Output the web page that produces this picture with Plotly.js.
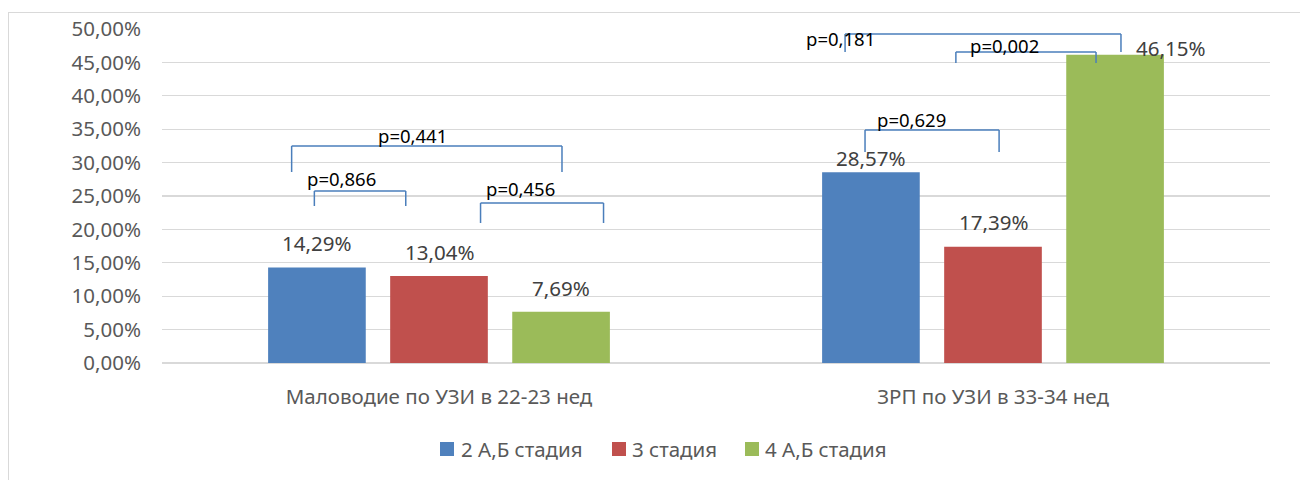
<!DOCTYPE html>
<html>
<head>
<meta charset="utf-8">
<script src="https://cdn.plot.ly/plotly-3.0.1.min.js"></script>
<style>
  html, body { margin: 0; padding: 0; background: #fff; }
  #wrap { position: relative; width: 1300px; height: 480px; overflow: hidden; }
  #frame { position: absolute; left: 8px; top: 12px; width: 1400px; height: 600px; border: 1px solid #d9d9d9; box-sizing: border-box; }
  #chart { position: absolute; left: 0; top: 0; width: 1300px; height: 480px; }
</style>
</head>
<body>
<div id="wrap">
  <div id="frame"></div>
  <div id="chart"></div>
</div>
<script>
// ---- data ----
var categories = ['Маловодие по УЗИ в 22-23 нед', 'ЗРП по УЗИ в 33-34 нед'];
var seriesNames = ['2 А,Б стадия', '3 стадия', '4 А,Б стадия'];
var stage2 = [14.29, 28.57];
var stage3 = [13.04, 17.39];
var stage4 = [7.69, 46.15];
var yTickVals = [0, 5, 10, 15, 20, 25, 30, 35, 40, 45, 50];

// p-value brackets (labels)
var pLabels = ['p=0,441', 'p=0,866', 'p=0,456', 'p=0,629', 'p=0,002', 'p=0,181'];

// ---- annotation placement (positions, not data) ----
var bracketX0 = [-0.266, -0.225, 0.075, 0.769, 0.933, 0.733];
var bracketX1 = [0.222, -0.060, 0.297, 1.011, 1.186, 1.231];
var bracketTop = [32.49, 25.75, 23.95, 34.88, 46.56, 49.25];
var bracketBottom = [28.59, 23.50, 20.96, 31.59, 44.91, 46.56];
var pTextX = [-0.048, -0.176, 0.147, 0.852, 1.021, 0.724];
var pTextY = [34.13, 27.65, 26.05, 36.38, 47.46, 48.6];

// data label offsets (px) per series per category
var labelYShift = [[24.5, 14.5], [24, 25], [23.5, 7]];
var labelXShift = [[0, 0], [0, 0], [0, 55]];

// custom legend placement (pixels in the 1300x480 page)
var legendSquareX = [440, 612, 745];
var legendTextX = [459, 630, 763];
var legendY = 449;

var colors = ['#4f81bd', '#c0504d', '#9bbb59'];
var FONT = 'Noto Sans, Open Sans, sans-serif';
var bargap = 0.339;

var M = { l: 162, r: 30, t: 29, b: 117 };
var W = 1300, H = 480;
var pw = W - M.l - M.r, ph = H - M.t - M.b;
function px2paperX(px) { return (px - M.l) / pw; }
function px2paperY(py) { return (H - M.b - py) / ph; }

var allSeries = [stage2, stage3, stage4];
var traces = allSeries.map(function (vals, i) {
  return {
    type: 'bar',
    name: seriesNames[i],
    x: categories,
    y: vals,
    marker: { color: colors[i] },
    hoverinfo: 'skip',
    showlegend: false
  };
});

var annotations = [];
var shapes = [];
var slot = (1 - bargap) / allSeries.length;
allSeries.forEach(function (vals, i) {
  vals.forEach(function (v, j) {
    annotations.push({
      x: j + (i - (allSeries.length - 1) / 2) * slot,
      y: v,
      xref: 'x', yref: 'y',
      text: v.toFixed(2).replace('.', ',') + '%',
      showarrow: false,
      yanchor: 'middle',
      xanchor: 'center',
      yshift: labelYShift[i][j],
      xshift: labelXShift[i][j],
      font: { family: FONT, size: 20.5, color: '#404040' }
    });
  });
});

var bracketLine = { color: '#4a7ebb', width: 1.5 };
pLabels.forEach(function (lab, k) {
  shapes.push({ type: 'line', xref: 'x', yref: 'y', x0: bracketX0[k], x1: bracketX1[k], y0: bracketTop[k], y1: bracketTop[k], line: bracketLine });
  shapes.push({ type: 'line', xref: 'x', yref: 'y', x0: bracketX0[k], x1: bracketX0[k], y0: bracketTop[k], y1: bracketBottom[k], line: bracketLine });
  shapes.push({ type: 'line', xref: 'x', yref: 'y', x0: bracketX1[k], x1: bracketX1[k], y0: bracketTop[k], y1: bracketBottom[k], line: bracketLine });
  annotations.push({
    x: pTextX[k], y: pTextY[k], xref: 'x', yref: 'y',
    text: lab, showarrow: false, xanchor: 'center', yanchor: 'middle',
    font: { family: FONT, size: 18.5, color: '#000000' }
  });
});

// legend
seriesNames.forEach(function (name, i) {
  shapes.push({
    type: 'rect', xref: 'paper', yref: 'paper',
    x0: px2paperX(legendSquareX[i]), x1: px2paperX(legendSquareX[i] + 14),
    y0: px2paperY(legendY - 7), y1: px2paperY(legendY + 7),
    fillcolor: colors[i], line: { width: 0 }
  });
  annotations.push({
    xref: 'paper', yref: 'paper',
    x: px2paperX(legendTextX[i]), y: px2paperY(legendY),
    xanchor: 'left', yanchor: 'middle', showarrow: false,
    text: name,
    font: { family: FONT, size: 20.5, color: '#595959' }
  });
});

var yTickText = yTickVals.map(function (v) { return v.toFixed(2).replace('.', ',') + '%'; });

var layout = {
  width: W, height: H,
  margin: M,
  paper_bgcolor: 'rgba(0,0,0,0)',
  plot_bgcolor: 'rgba(0,0,0,0)',
  barmode: 'group',
  bargap: bargap,
  bargroupgap: 0.2,
  showlegend: false,
  xaxis: {
    type: 'category',
    range: [-0.5, 1.5],
    showgrid: false, showline: false, zeroline: false, ticks: '',
    ticklabelstandoff: 19,
    tickfont: { family: FONT, size: 20.5, color: '#595959' },
    fixedrange: true
  },
  yaxis: {
    range: [0, 50],
    tickmode: 'array',
    tickvals: yTickVals,
    ticktext: yTickText,
    showgrid: true, gridcolor: '#d9d9d9', gridwidth: 1.3,
    zeroline: true, zerolinecolor: '#d9d9d9', zerolinewidth: 1.3,
    showline: false, ticks: '',
    ticklabelstandoff: 20,
    tickfont: { family: FONT, size: 20.5, color: '#595959' },
    fixedrange: true
  },
  shapes: shapes,
  annotations: annotations
};

Plotly.newPlot('chart', traces, layout, { displayModeBar: false, staticPlot: true });
</script>
</body>
</html>
